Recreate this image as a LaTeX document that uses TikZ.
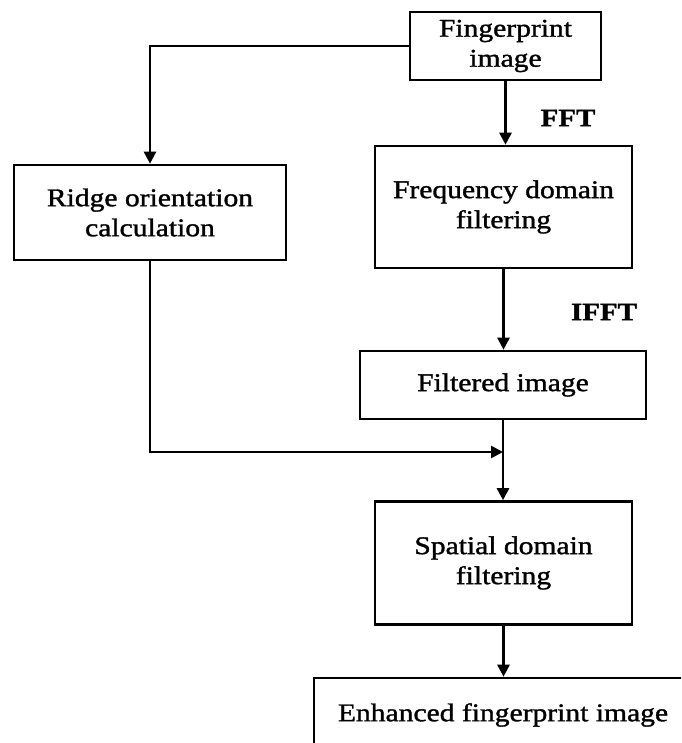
\documentclass[tikz,border=0pt]{standalone}
\usepackage{fontspec}
\setmainfont{Liberation Serif}[FakeStretch=1.16, FakeBold=1.3]
\usetikzlibrary{arrows.meta}
\begin{document}
\begin{tikzpicture}[x=1pt,y=-1pt,
  box/.style={draw, line width=2.6pt, rectangle, align=center, inner sep=0pt,
    font=\fontsize{25.5}{30}\selectfont},
  flow/.style={line width=2.6pt, -{Triangle[length=12pt,width=12pt]}},
  tag/.style={font=\bfseries\fontsize{25}{30}\selectfont}]
  \useasboundingbox (0,0) rectangle (681,743);
  \clip (0,0) rectangle (681,743);

  % process boxes
  \node[box, minimum width=191pt, minimum height=68pt]  (fp)   at (505.5,46)  {Fingerprint\\image};
  \node[box, minimum width=272pt, minimum height=95pt]  (rid)  at (150,212.5) {Ridge orientation\\calculation};
  \node[box, minimum width=257pt, minimum height=122pt] (freq) at (503.5,207) {Frequency domain\\filtering};
  \node[box, minimum width=286pt, minimum height=68pt]  (filt) at (503,385)   {Filtered image};
  \node[box, minimum width=257pt, minimum height=123pt] (spat) at (503.5,563) {Spatial domain\\filtering};
  \node[box, minimum width=378pt, minimum height=74pt]  (enh)  at (503,715)   {Enhanced fingerprint image};

  % transform labels
  \node[tag] (fft)  at (568,118) {FFT};
  \node[tag] (ifft) at (604,312) {IFFT};

  % connectors
  \coordinate (bend1) at (150,46);
  \coordinate (bend2) at (150,452);
  \coordinate (join)  at (503,452);
  \draw[flow] (fp.west) -- (bend1) -- (rid.north);
  \draw[flow] (fp.south) -- (fp.south |- freq.north);
  \draw[flow] (freq.south) -- (freq.south |- filt.north);
  \draw[flow] (rid.south) -- (bend2) -- (join);
  \draw[flow] (filt.south) -- (filt.south |- spat.north);
  \draw[flow] (spat.south) -- (spat.south |- enh.north);
\end{tikzpicture}
\end{document}
